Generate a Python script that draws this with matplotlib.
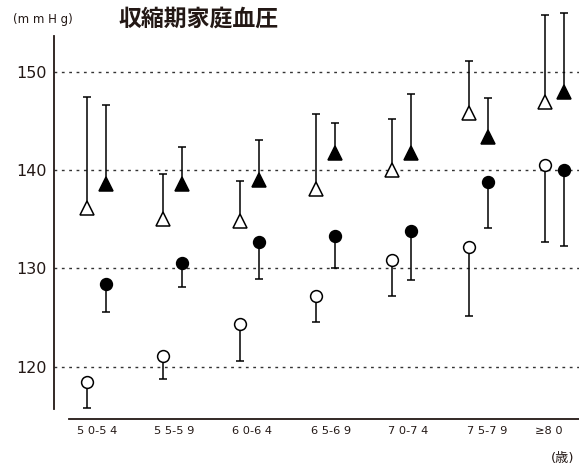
import numpy as np
import matplotlib
matplotlib.use("Agg")
import matplotlib.pyplot as plt

plt.rcParams['font.family'] = ['DejaVu Sans', 'Noto Sans CJK JP']

# age groups
ages = ['50-54', '55-59', '60-64', '65-69', '70-74', '75-79', '≥80']

# open triangle + upper bar
tri_open = [136.1, 135.0, 134.8, 138.05, 140.0, 145.8, 146.95]
tri_open_top = [147.5, 139.6, 138.9, 145.75, 145.25, 151.15, 155.8]
# filled triangle + upper bar
tri_fill = [138.6, 138.6, 139.0, 141.8, 141.7, 143.4, 148.0]
tri_fill_top = [146.6, 142.4, 143.1, 144.8, 147.8, 147.3, 156.0]
# open circle + lower bar
circ_open = [118.4, 121.1, 124.3, 127.2, 130.9, 132.2, 140.5]
circ_open_low = [115.75, 118.7, 120.6, 124.5, 127.2, 125.2, 132.7]
# filled circle + lower bar
circ_fill = [128.4, 130.55, 132.65, 133.3, 133.85, 138.8, 140.0]
circ_fill_low = [125.6, 128.1, 128.9, 130.0, 128.8, 134.1, 132.3]

yticks = [120, 130, 140, 150]

INK = '#231815'


def spaced(s):
    # letter spacing between digits only
    out = s[0]
    for a, b in zip(s[:-1], s[1:]):
        out += (' ' if a.isdigit() and b.isdigit() else '') + b
    return out


fig = plt.figure(figsize=(5.79, 4.68), dpi=100)
ax = fig.add_axes([0.0933, 0.104, 0.9067, 0.896])

x = np.arange(len(ages))
xo = x
xf = x + 0.25


def draw(xs, ys, ends, up, marker, fc, ms):
    ys = np.array(ys)
    ends = np.array(ends)
    if up:
        err = [np.zeros_like(ys), ends - ys]
    else:
        err = [ys - ends, np.zeros_like(ys)]
    ax.errorbar(xs, ys, yerr=err, fmt='none', ecolor='black', elinewidth=1.1,
                capsize=2.8, capthick=1.1, zorder=2)
    ax.plot(xs, ys, ls='none', marker=marker, ms=ms, mfc=fc, mec='black',
            mew=1.1, zorder=3)


draw(xo, tri_open, tri_open_top, True, '^', 'white', 9.5)
draw(xf, tri_fill, tri_fill_top, True, '^', 'black', 9.5)
draw(xo, circ_open, circ_open_low, False, 'o', 'white', 8.5)
draw(xf, circ_fill, circ_fill_low, False, 'o', 'black', 8.5)

for v in yticks:
    ax.axhline(v, color='#333333', lw=1.0, ls=(0, (2, 3.3)), zorder=1)

ax.set_xlim(-0.428, 6.444)
ax.set_ylim(114.63, 157.33)

for s in ['top', 'right']:
    ax.spines[s].set_visible(False)
ax.spines['left'].set_bounds(115.68, 153.67)
ax.spines['bottom'].set_bounds(-0.238, 6.444)
for s in ['left', 'bottom']:
    ax.spines[s].set_linewidth(1.3)
    ax.spines[s].set_color(INK)

# label centres sit a little wider apart than the marker pairs
label_pos = [0.135, 1.143, 2.164, 3.198, 4.206, 5.240, 6.051]

ax.set_yticks(yticks)
ax.set_yticklabels([str(v) for v in yticks], fontsize=11.5, color=INK)
ax.set_xticks(label_pos)
ax.set_xticklabels([spaced(a) for a in ages], fontsize=8.2, color=INK)
ax.tick_params(axis='both', length=0)
ax.tick_params(axis='y', pad=5.5)
ax.tick_params(axis='x', pad=4.5)

fig.text(0.023, 0.958, '(m m H g)', fontsize=8.5, va='center',
         ha='left', color=INK)
fig.text(0.205, 0.959, '収縮期家庭血圧', fontsize=16.5, fontweight='bold',
         va='center', ha='left', color=INK)
fig.text(0.951, 0.006, '(歳)', fontsize=9.5, va='bottom', ha='left',
         color=INK)

fig.savefig('out.png', dpi=100)
